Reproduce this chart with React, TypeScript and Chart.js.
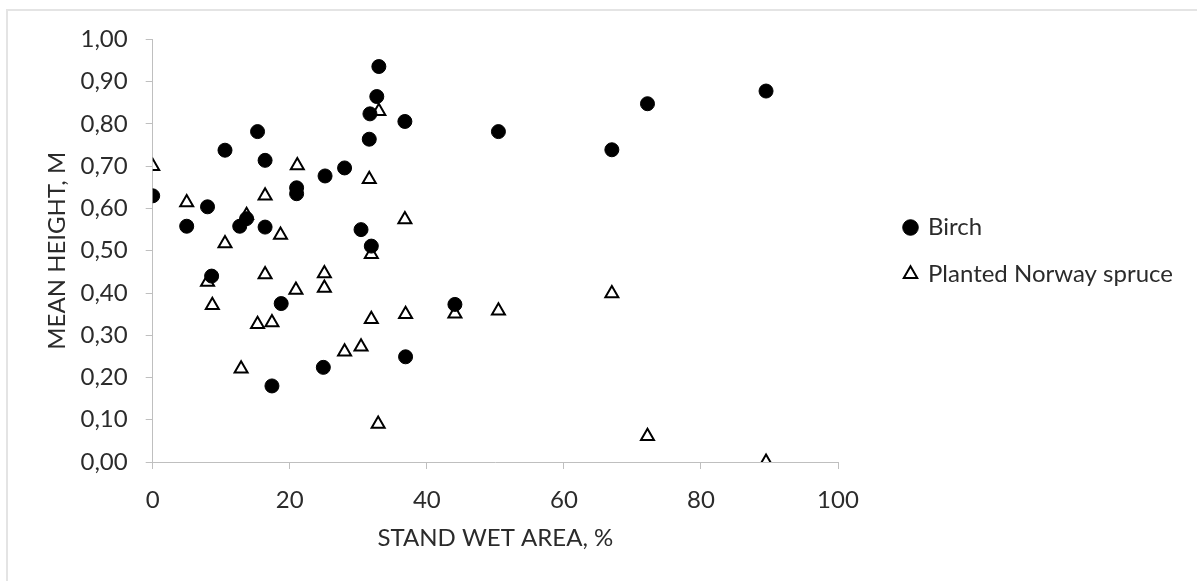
import React, { useEffect, useRef } from "react";
import { Chart, registerables } from "chart.js";

Chart.register(...registerables);

// Birch: stand wet area (%) and mean height (m)
const birchWetArea = [0, 4.96, 8.0, 8.6, 10.55, 12.7, 13.7, 15.3, 16.4, 16.4, 17.4, 18.75, 21.0, 21.0, 25.15, 24.9, 28.0, 30.4, 31.6, 31.7, 31.9, 32.7, 33.0, 36.8, 36.9, 44.1, 50.45, 67.0, 72.2, 89.5];
const birchHeight = [0.63, 0.558, 0.604, 0.44, 0.738, 0.558, 0.576, 0.782, 0.714, 0.556, 0.18, 0.375, 0.649, 0.635, 0.677, 0.224, 0.696, 0.55, 0.764, 0.824, 0.511, 0.865, 0.936, 0.806, 0.249, 0.373, 0.782, 0.739, 0.848, 0.878];

// Planted Norway spruce: stand wet area (%) and mean height (m)
const spruceWetArea = [0, 4.96, 8.0, 8.7, 10.55, 12.9, 13.7, 15.3, 16.4, 16.4, 17.4, 18.65, 21.1, 20.9, 25.05, 25.05, 28.0, 30.4, 31.6, 31.9, 31.9, 33.0, 32.9, 36.8, 36.9, 44.1, 50.45, 67.0, 72.2, 89.5];
const spruceHeight = [0.7, 0.614, 0.426, 0.371, 0.517, 0.221, 0.584, 0.326, 0.63, 0.444, 0.33, 0.537, 0.702, 0.407, 0.446, 0.412, 0.261, 0.273, 0.669, 0.492, 0.338, 0.83, 0.09, 0.574, 0.35, 0.351, 0.358, 0.399, 0.061, 0.0];

const seriesNames = ["Birch", "Planted Norway spruce"];
const xTitle = "STAND WET AREA, %";
const yTitle = "MEAN HEIGHT, M";

const FONT_FAMILY = "Lato";
const FONT_SIZE = 24;
const TEXT_COLOR = "#2b2b2b";
const AXIS_COLOR = "#bfbfbf";

const W = 1197;
const H = 581;
const AREA_LEFT = 152.7;
const AREA_RIGHT = 838;
const AREA_TOP = 39.5;
const AREA_BOTTOM = 462;
const LEGEND_TEXT_X = 928;
const LEGEND_BOX = 11;
const LEGEND_PAD = 22.5;

export default function App() {
  const ref = useRef<HTMLCanvasElement | null>(null);

  useEffect(() => {
    if (!ref.current) return;
    const font = { family: FONT_FAMILY, size: FONT_SIZE };
    const toPts = (xs: number[], ys: number[]) => xs.map((x, i) => ({ x, y: ys[i] }));

    const moveLegend = {
      id: "moveLegend",
      afterLayout(chart: any) {
        const lg = chart.legend;
        if (!lg) return;
        const left = LEGEND_TEXT_X - LEGEND_BOX - FONT_SIZE / 2 - LEGEND_PAD;
        const w = lg.width;
        lg.left = left;
        lg.right = left + w;
        lg.top = chart.chartArea.top;
        lg.bottom = chart.chartArea.bottom;
      },
    };

    const chart = new Chart(ref.current, {
      type: "scatter",
      data: {
        datasets: [
          {
            label: seriesNames[0],
            data: toPts(birchWetArea, birchHeight),
            pointStyle: "circle",
            pointRadius: 7,
            pointBackgroundColor: "#000",
            pointBorderColor: "#000",
            pointBorderWidth: 1,
            backgroundColor: "#000",
            borderColor: "#000",
            borderWidth: 1,
          },
          {
            label: seriesNames[1],
            data: toPts(spruceWetArea, spruceHeight),
            pointStyle: "triangle",
            pointRadius: 7.5,
            pointBackgroundColor: "#fff",
            pointBorderColor: "#000",
            pointBorderWidth: 2,
            backgroundColor: "#fff",
            borderColor: "#000",
            borderWidth: 2,
          },
        ],
      },
      options: {
        responsive: false,
        animation: false,
        events: [],
        layout: {
          padding: { top: AREA_TOP, right: W - AREA_RIGHT, bottom: 0, left: 0 },
        },
        plugins: {
          tooltip: { enabled: false },
          legend: {
            display: true,
            position: "chartArea",
            align: "center",
            labels: {
              usePointStyle: true,
              boxWidth: LEGEND_BOX,
              boxHeight: LEGEND_BOX,
              padding: LEGEND_PAD,
              font,
              color: TEXT_COLOR,
            },
          },
        },
        scales: {
          x: {
            type: "linear",
            min: 0,
            max: 100,
            ticks: { stepSize: 20, padding: 17, font, color: TEXT_COLOR },
            grid: { drawOnChartArea: false, drawTicks: true, tickLength: 7, color: AXIS_COLOR },
            border: { color: AXIS_COLOR, width: 1 },
            title: { display: true, text: xTitle, font, color: TEXT_COLOR, padding: { top: 0, bottom: H - 538 - FONT_SIZE * 0.6 } },
            afterFit(s: any) {
              s.height = H - AREA_BOTTOM;
            },
          },
          y: {
            type: "linear",
            min: 0,
            max: 1,
            ticks: {
              stepSize: 0.1,
              padding: 18,
              font,
              color: TEXT_COLOR,
              callback: (v: any) => Number(v).toFixed(2).replace(".", ","),
            },
            grid: { drawOnChartArea: false, drawTicks: true, tickLength: 7, color: AXIS_COLOR },
            border: { color: AXIS_COLOR, width: 1 },
            title: { display: true, text: yTitle, font, color: TEXT_COLOR, padding: { top: 57 - FONT_SIZE * 0.6, bottom: 0 } },
            afterFit(s: any) {
              s.width = AREA_LEFT;
            },
          },
        },
      },
      plugins: [moveLegend],
    } as any);

    return () => chart.destroy();
  }, []);

  return (
    <>
      <div
        style={{
          position: "absolute",
          left: 6,
          top: 9,
          width: W - 6,
          height: H - 9,
          borderTop: "2px solid #e4e4e4",
          borderLeft: "2px solid #e4e4e4",
          boxSizing: "border-box",
        }}
      />
      <div style={{ position: "absolute", left: 0, top: 0, width: W, height: H }}>
        <canvas ref={ref} width={W} height={H} style={{ display: "block" }} />
      </div>
    </>
  );
}
